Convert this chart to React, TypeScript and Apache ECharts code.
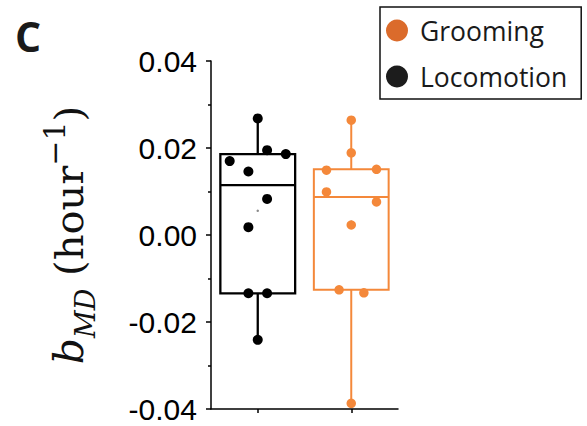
import React, { useEffect, useRef } from "react";
import * as echarts from "echarts";

// Behaviour categories on the x axis (plot order)
const categories = ["Locomotion", "Grooming"];

// Per-animal b_MD values (hour^-1)
const locomotion = [0.0268, 0.0195, 0.0186, 0.017, 0.0146, 0.0083, 0.0018, -0.0134, -0.0134, -0.0241];
const grooming = [0.0264, 0.0189, 0.0151, 0.0149, 0.0099, 0.0076, 0.0023, -0.0126, -0.0133, -0.0387];

// Horizontal scatter offsets of each dot, as a fraction of one category band
const locomotionJitter = [0, 0.1, 0.3, -0.3, -0.1, 0.1, -0.1, -0.1, 0.1, 0];
const groomingJitter = [0, 0, 0.27, -0.265, -0.265, 0.27, 0, -0.13, 0.135, 0];

// y axis ticks
const yMin = -0.04;
const yMax = 0.04;
const yStep = 0.02;

// Legend order
const legendOrder = ["Grooming", "Locomotion"];

const BLACK = "#000000";
const ORANGE = "#F4883A";
const LEGEND_ORANGE = "#DB6B2B";
const LEGEND_BLACK = "#1c1c1c";

function median(arr: number[]): number {
  const n = arr.length;
  return n % 2 ? arr[(n - 1) / 2] : (arr[n / 2 - 1] + arr[n / 2]) / 2;
}

// Tukey hinges: min, lower hinge, median, upper hinge, max
function boxStats(vals: number[]): number[] {
  const s = [...vals].sort((a, b) => a - b);
  const n = s.length;
  const half = Math.floor(n / 2);
  const lower = s.slice(0, n % 2 ? half + 1 : half);
  const upper = s.slice(half);
  return [s[0], median(lower), median(s), median(upper), s[n - 1]];
}

const mean = (vals: number[]) => vals.reduce((a, b) => a + b, 0) / vals.length;

export default function App() {
  const ref = useRef<HTMLDivElement>(null);

  useEffect(() => {
    if (!ref.current) return;
    const chart = echarts.init(ref.current, undefined, { renderer: "svg" });

    const groups = [locomotion, grooming];
    const jitters = [locomotionJitter, groomingJitter];
    const colors = [BLACK, ORANGE];
    const widths = [2.3, 2];

    const boxData = groups.map((g, i) => [i, ...boxStats(g)]);
    const meanData = groups.map((g, i) => [i + 0.5, mean(g)]);
    const pointData = groups.map((g, i) => g.map((v, j) => [i + 0.5 + jitters[i][j], v]));

    const option: any = {
      animation: false,
      backgroundColor: "#ffffff",
      grid: { left: 211, top: 61, width: 187, height: 348 },
      legend: {
        orient: "vertical",
        left: 380,
        top: 7,
        padding: [10, 14, 9, 6],
        itemWidth: 22,
        itemHeight: 22,
        itemGap: 19,
        icon: "circle",
        borderColor: "#111111",
        borderWidth: 1.5,
        borderRadius: 0,
        selectedMode: false,
        textStyle: {
          fontFamily: "Open Sans",
          fontSize: 26.5,
          lineHeight: 22,
          color: "#1a1a1a",
          padding: [0, 0, 0, 7],
        },
        data: [
          { name: legendOrder[0], itemStyle: { color: LEGEND_ORANGE, opacity: 1 } },
          { name: legendOrder[1], itemStyle: { color: LEGEND_BLACK, opacity: 1 } },
        ],
      },
      graphic: [
        {
          type: "text",
          left: 15,
          top: 15,
          style: {
            text: "C",
            font: 'bold 41px "Open Sans"',
            fill: "#1a1a1a",
          },
        },
      ],
      xAxis: [
        {
          type: "category",
          data: categories,
          boundaryGap: true,
          axisLine: { show: true, onZero: false, lineStyle: { color: "#000", width: 1.5 } },
          axisTick: { show: true, alignWithLabel: true, length: 4, lineStyle: { color: "#000", width: 1.5 } },
          axisLabel: { show: false },
          splitLine: { show: false },
        },
        {
          type: "value",
          min: 0,
          max: categories.length,
          show: false,
        },
      ],
      yAxis: {
        type: "value",
        min: yMin,
        max: yMax,
        interval: yStep,
        axisLine: { show: true, lineStyle: { color: "#000", width: 1.5 } },
        axisTick: { show: true, length: 5, lineStyle: { color: "#000", width: 1.5 } },
        minorTick: { show: true, splitNumber: 2, length: 3, lineStyle: { color: "#000", width: 1.5 } },
        splitLine: { show: false },
        axisLabel: {
          margin: 14,
          fontFamily: "Liberation Sans",
          fontSize: 30,
          color: "#000",
          formatter: (v: number) => (Math.abs(v) < 1e-9 ? 0 : v).toFixed(2),
        },
        name: "{b|b}{sub|MD}{n| (hour}{sup|−1}{n|)}",
        nameLocation: "middle",
        nameRotate: 90,
        nameGap: 112,
        nameTextStyle: {
          color: "#111",
          rich: {
            b: { fontFamily: "DejaVu Serif", fontStyle: "italic", fontSize: 41, lineHeight: 60 },
            n: { fontFamily: "DejaVu Serif", fontSize: 40, lineHeight: 60 },
            sub: {
              fontFamily: "DejaVu Serif",
              fontStyle: "italic",
              fontSize: 27,
              lineHeight: 34,
              verticalAlign: "bottom",
            },
            sup: {
              fontFamily: "DejaVu Serif",
              fontSize: 30,
              lineHeight: 54,
              verticalAlign: "top",
            },
          },
        },
      },
      series: [
        {
          type: "custom",
          name: "box",
          xAxisIndex: 0,
          encode: { x: 0, y: [1, 2, 3, 4, 5] },
          data: boxData,
          z: 2,
          renderItem: (params: any, api: any) => {
            const i = api.value(0);
            const [mn, q1, md, q3, mx] = [1, 2, 3, 4, 5].map((d) => api.value(d));
            const pMin = api.coord([i, mn]);
            const pQ1 = api.coord([i, q1]);
            const pMd = api.coord([i, md]);
            const pQ3 = api.coord([i, q3]);
            const pMax = api.coord([i, mx]);
            const bw = api.size([1, 0])[0] * 0.8;
            const cx = pMd[0];
            const style = { stroke: colors[i], lineWidth: widths[i], fill: "none" };
            return {
              type: "group",
              children: [
                { type: "line", shape: { x1: cx, y1: pQ3[1], x2: cx, y2: pMax[1] }, style },
                { type: "line", shape: { x1: cx, y1: pQ1[1], x2: cx, y2: pMin[1] }, style },
                {
                  type: "rect",
                  shape: { x: cx - bw / 2, y: pQ3[1], width: bw, height: pQ1[1] - pQ3[1] },
                  style,
                },
                { type: "line", shape: { x1: cx - bw / 2, y1: pMd[1], x2: cx + bw / 2, y2: pMd[1] }, style },
              ],
            };
          },
        },
        {
          type: "scatter",
          name: "mean",
          xAxisIndex: 1,
          data: meanData,
          symbolSize: 2.5,
          itemStyle: { color: "#8a8a8a", opacity: 1 },
          silent: true,
          z: 3,
        },
        {
          type: "scatter",
          name: categories[0],
          xAxisIndex: 1,
          data: pointData[0],
          symbolSize: 10,
          itemStyle: { color: BLACK, opacity: 1 },
          z: 4,
        },
        {
          type: "scatter",
          name: categories[1],
          xAxisIndex: 1,
          data: pointData[1],
          symbolSize: 9.5,
          itemStyle: { color: ORANGE, opacity: 1 },
          z: 4,
        },
      ],
    };

    chart.setOption(option);
    return () => chart.dispose();
  }, []);

  return <div ref={ref} style={{ width: 587, height: 426, position: "absolute", left: 0, top: 0 }} />;
}
